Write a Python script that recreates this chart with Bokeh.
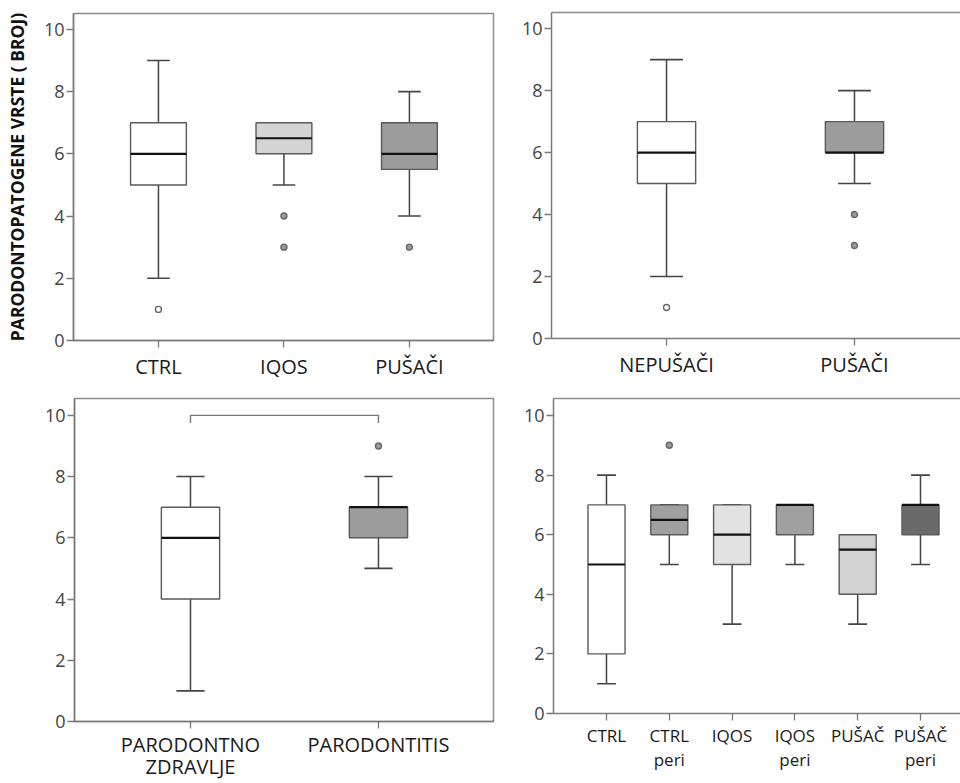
from bokeh.plotting import figure
from bokeh.layouts import row, column
from bokeh.models import FixedTicker, LinearAxis, Range1d
from bokeh.embed import file_html
from bokeh.resources import INLINE

# ---------------- data ----------------
p1_cats = ["CTRL", "IQOS", "PUŠAČI"]
p1_low = [2, 5, 4]
p1_q1 = [5, 6, 5.5]
p1_med = [6, 6.5, 6]
p1_q3 = [7, 7, 7]
p1_high = [9, 7, 8]
p1_out_cat = ["CTRL", "IQOS", "IQOS", "PUŠAČI"]
p1_out_val = [1, 4, 3, 3]
p1_fill = ["#ffffff", "#d4d4d4", "#9c9c9c"]

p2_cats = ["NEPUŠAČI", "PUŠAČI"]
p2_low = [2, 5]
p2_q1 = [5, 6]
p2_med = [6, 6]
p2_q3 = [7, 7]
p2_high = [9, 8]
p2_out_cat = ["NEPUŠAČI", "PUŠAČI", "PUŠAČI"]
p2_out_val = [1, 4, 3]
p2_fill = ["#ffffff", "#9c9c9c"]

p3_cats = ["PARODONTNO\nZDRAVLJE", "PARODONTITIS"]
p3_low = [1, 5]
p3_q1 = [4, 6]
p3_med = [6, 7]
p3_q3 = [7, 7]
p3_high = [8, 8]
p3_out_cat = ["PARODONTITIS"]
p3_out_val = [9]
p3_fill = ["#ffffff", "#9c9c9c"]
p3_bracket_level = 10
p3_bracket_drop = 0.25

p4_cats = ["CTRL", "CTRL\nperi", "IQOS", "IQOS\nperi", "PUŠAČ", "PUŠAČ\nperi"]
p4_low = [1, 5, 3, 5, 3, 5]
p4_q1 = [2, 6, 5, 6, 4, 6]
p4_med = [5, 6.5, 6, 7, 5.5, 7]
p4_q3 = [7, 7, 7, 7, 6, 7]
p4_high = [8, 7, 7, 7, 6, 8]
p4_out_cat = ["CTRL\nperi"]
p4_out_val = [9]
p4_fill = ["#ffffff", "#a0a0a0", "#e2e2e2", "#a0a0a0", "#d2d2d2", "#6a6a6a"]

y_ticks = [0, 2, 4, 6, 8, 10]
y_title = "PARODONTOPATOGENE VRSTE ( BROJ)"

FONT = "Open Sans"
AX_COL = "#7a7a7a"


def make_fig(width, height, borders, x_range, y_end, cats, label_size,
             full_outline=True, line_height=1.2, standoff=5):
    left, right, top, bottom = borders
    p = figure(width=width, height=height, output_backend="svg",
               toolbar_location=None, x_range=Range1d(*x_range),
               y_range=Range1d(0, y_end),
               min_border_left=left, min_border_right=right,
               min_border_top=top, min_border_bottom=bottom)
    p.grid.visible = False
    p.background_fill_color = "white"
    p.border_fill_color = "white"
    yax = p.left[0]
    xax = p.below[0]
    # y axis
    yax.ticker = FixedTicker(ticks=y_ticks)
    yax.minor_tick_line_color = None
    yax.major_tick_out = 7
    yax.major_tick_in = 0
    yax.major_tick_line_color = AX_COL
    yax.major_tick_line_width = 1.3
    yax.axis_line_color = AX_COL
    yax.axis_line_width = 1.5
    yax.major_label_text_font = FONT
    yax.major_label_text_font_size = "18px"
    yax.major_label_text_color = "#444444"
    yax.major_label_standoff = 2
    # x axis
    xs = list(range(1, len(cats) + 1))
    xax.ticker = FixedTicker(ticks=xs)
    xax.major_label_overrides = {x: c for x, c in zip(xs, cats)}
    xax.minor_tick_line_color = None
    xax.major_tick_out = 7
    xax.major_tick_in = 0
    xax.major_tick_line_color = AX_COL
    xax.major_tick_line_width = 1.3
    xax.axis_line_color = AX_COL
    xax.axis_line_width = 1.5
    xax.major_label_text_font = FONT
    xax.major_label_text_font_size = label_size
    xax.major_label_text_color = "#1a1a1a"
    xax.major_label_text_line_height = line_height
    xax.major_label_standoff = standoff
    if full_outline:
        p.outline_line_color = "#8a8a8a"
        p.outline_line_width = 1.5
    else:
        p.outline_line_color = None
        top_ax = LinearAxis(ticker=FixedTicker(ticks=[]), major_tick_out=0,
                            major_tick_in=0, minor_tick_out=0, minor_tick_in=0,
                            major_label_text_font_size="0px",
                            axis_line_color="#8a8a8a", axis_line_width=1.5)
        p.add_layout(top_ax, "above")
    return p


def draw_boxes(p, cats, low, q1, med, q3, high, fills, box_w, cap_w,
               out_cat, out_val):
    xs = list(range(1, len(cats) + 1))
    pos = {c: x for c, x in zip(cats, xs)}
    # whiskers
    p.segment(x0=xs, y0=q3, x1=xs, y1=high, line_color="#444444", line_width=1.5)
    p.segment(x0=xs, y0=q1, x1=xs, y1=low, line_color="#444444", line_width=1.5)
    # caps
    p.segment(x0=[x - cap_w / 2 for x in xs], y0=high,
              x1=[x + cap_w / 2 for x in xs], y1=high,
              line_color="#444444", line_width=1.6)
    p.segment(x0=[x - cap_w / 2 for x in xs], y0=low,
              x1=[x + cap_w / 2 for x in xs], y1=low,
              line_color="#444444", line_width=1.6)
    # boxes
    p.vbar(x=xs, width=box_w, bottom=q1, top=q3, fill_color=fills,
           line_color="#5a5a5a", line_width=1.4)
    # medians
    p.segment(x0=[x - box_w / 2 for x in xs], y0=med,
              x1=[x + box_w / 2 for x in xs], y1=med,
              line_color="#111111", line_width=2.2)
    # outliers
    if out_cat:
        ox = [pos[c] for c in out_cat]
        ofill = [fills[cats.index(c)] if fills[cats.index(c)] == "#ffffff"
                 else "#9a9a9a" for c in out_cat]
        p.scatter(x=ox, y=out_val, size=6, marker="circle",
                  fill_color=ofill, line_color="#666666", line_width=1.4)


# ---------------- panel 1 ----------------
p1 = make_fig(510, 390, (73, 17, 13, 50), (0.323, 3.67), 10.51, p1_cats, "20px")
p1.yaxis.axis_label = y_title
p1.yaxis.axis_label_text_font = FONT
p1.yaxis.axis_label_text_font_style = "bold"
p1.yaxis.axis_label_text_font_size = "17.5px"
p1.yaxis.axis_label_text_color = "#111111"
p1.yaxis.axis_label_standoff = 12
draw_boxes(p1, p1_cats, p1_low, p1_q1, p1_med, p1_q3, p1_high, p1_fill,
           0.445, 0.18, p1_out_cat, p1_out_val)

# ---------------- panel 2 ----------------
p2 = make_fig(450, 390, (41, 0, 12, 52), (0.388, 2.564), 10.52, p2_cats, "20px",
              full_outline=False)
draw_boxes(p2, p2_cats, p2_low, p2_q1, p2_med, p2_q3, p2_high, p2_fill,
           0.31, 0.175, p2_out_cat, p2_out_val)

# ---------------- panel 3 ----------------
p3 = make_fig(510, 393, (74, 17, 8, 60), (0.383, 2.612), 10.55, p3_cats, "20px",
              line_height=0.85, standoff=2)
draw_boxes(p3, p3_cats, p3_low, p3_q1, p3_med, p3_q3, p3_high, p3_fill,
           0.31, 0.15, p3_out_cat, p3_out_val)
bx = [1, 2]
p3.multi_line(xs=[[bx[0], bx[0], bx[1], bx[1]]],
              ys=[[p3_bracket_level - p3_bracket_drop, p3_bracket_level,
                   p3_bracket_level, p3_bracket_level - p3_bracket_drop]],
              line_color="#777777", line_width=1.4)

# ---------------- panel 4 ----------------
p4 = make_fig(450, 393, (43, 0, 8, 70), (0.156, 6.637), 10.57, p4_cats, "17px",
              full_outline=False, line_height=1.05, standoff=3)
draw_boxes(p4, p4_cats, p4_low, p4_q1, p4_med, p4_q3, p4_high, p4_fill,
           0.59, 0.30, p4_out_cat, p4_out_val)

layout = column(row(column(p1), column(p2)), row(column(p3), column(p4)))

open("out.html", "w").write(file_html(layout, INLINE))
